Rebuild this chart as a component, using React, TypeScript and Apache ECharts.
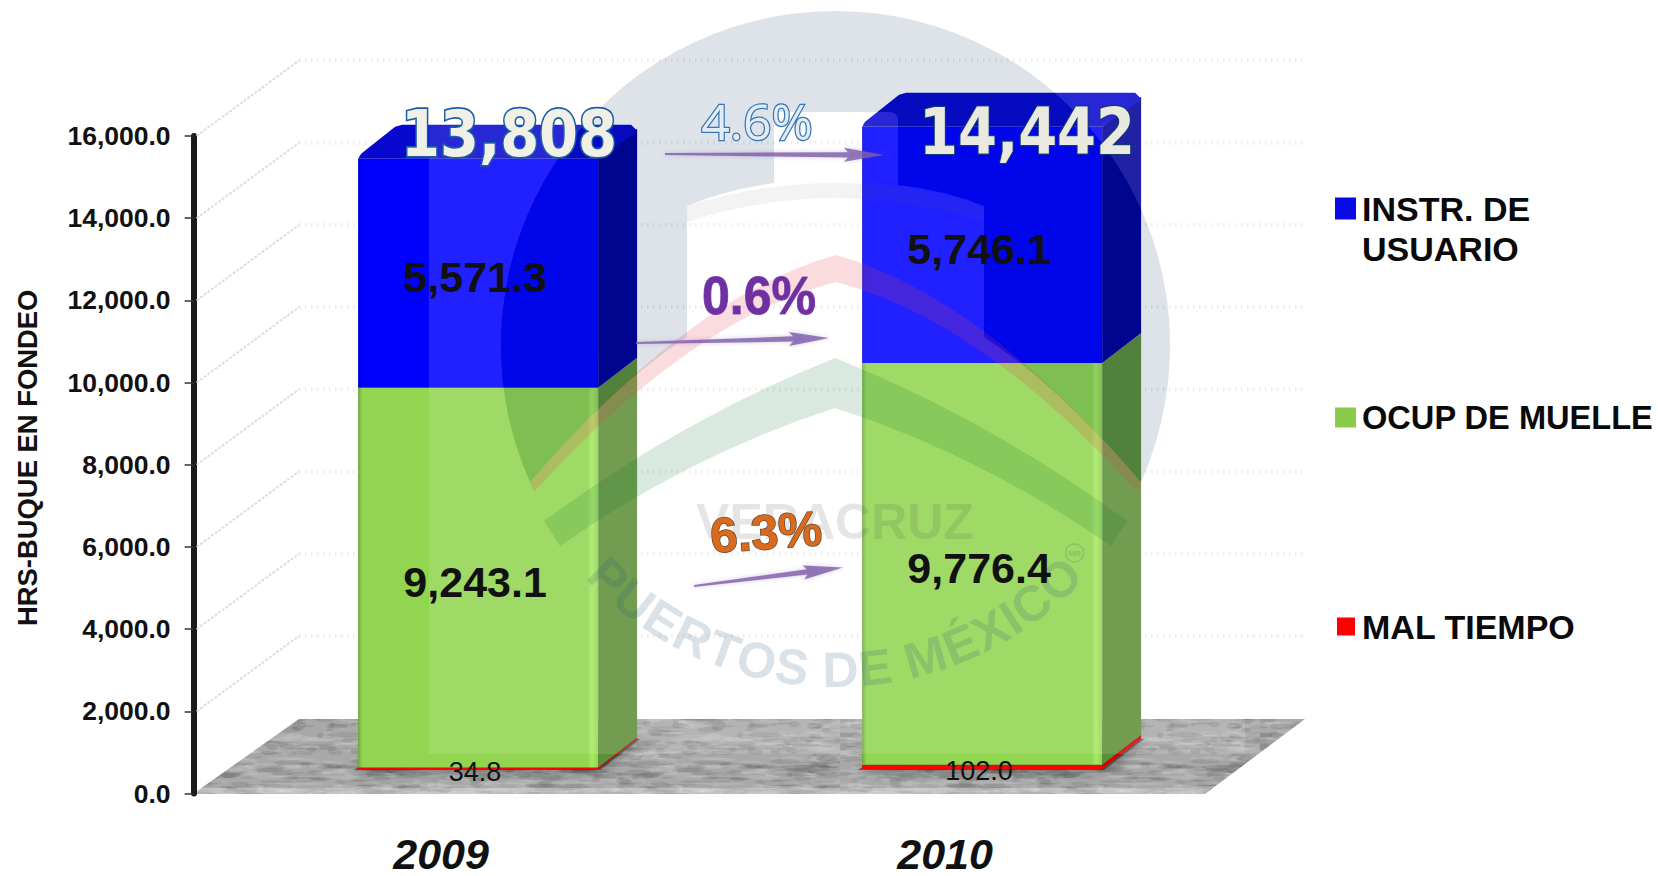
import React, { useEffect, useRef } from "react";
import * as echarts from "echarts";

const categories = ["2009", "2010"];
const malTiempo = [34.8, 102.0];
const ocupMuelle = [9243.1, 9776.4];
const instrUsuario = [5571.3, 5746.1];
const totalLabels = ["13,808", "14,442"];
const pctLabels = ["4.6%", "0.6%", "6.3%"];
const yTicks = [2000, 4000, 6000, 8000, 10000, 12000, 14000, 16000];
const legendNames = ["INSTR. DE\nUSUARIO", "OCUP DE MUELLE", "MAL TIEMPO"];

const SANS = '"Liberation Sans", Arial, sans-serif';
const LIFT = 24.6;
const OFF = 32.5;
const BAR_W = 240;
const DX = 39;
const DY = 30;

const DISC =
  "M530 482A334.6 334.6 0 1 1 1141 482Q1058 385 984 337L984 206Q945 190 898 185L898 120Q898 112 888 112L774 112L774 183Q725 190 687 206L687 337Q613 385 530 482Z";
const reg = (name: string, d: string) =>
  echarts.graphic.registerShape(name, echarts.graphic.extendPath(d, {}) as any);
reg("wmDisc", DISC);
reg("wmVeil", "M429 10L429 754L1245 754L1245 10Z" + DISC);
reg("wmBand", "M687 206Q836 160 984 206L984 222Q836 174 687 222Z");
reg("wmPink", "M530 482Q690 296 836 255Q982 296 1141 482L1137 492Q982 320 836 282Q690 320 534 492Z");
reg("wmGreen", "M544 521Q680 420 835 358Q990 420 1127 521L1111 546Q980 455 835 408Q690 455 560 546Z");

function floorTexture() {
  const c = document.createElement("canvas");
  c.width = 420;
  c.height = 160;
  const g = c.getContext("2d")!;
  g.fillStyle = "#a9a9a9";
  g.fillRect(0, 0, 420, 160);
  let s = 12345;
  const next = () => {
    s = (s * 1103515245 + 12345) & 0x7fffffff;
    return s / 0x7fffffff;
  };
  for (let i = 0; i < 1500; i++) {
    const x = next() * 420;
    const y = next() * 160;
    const w = 3 + next() * 16;
    const h = 0.8 + next() * 2.4;
    g.fillStyle = next() > 0.5 ? "rgba(215,215,215,0.2)" : "rgba(90,90,90,0.18)";
    g.beginPath();
    g.ellipse(x, y, w, h, 0, 0, Math.PI * 2);
    g.fill();
  }
  return c;
}

function arrow(x0: number, y0: number, x1: number, y1: number) {
  const L = Math.hypot(x1 - x0, y1 - y0);
  const ux = (x1 - x0) / L;
  const uy = (y1 - y0) / L;
  const nx = -uy;
  const ny = ux;
  const p = (a: number, n: number) => [x0 + ux * a + nx * n, y0 + uy * a + ny * n];
  return {
    type: "polygon",
    z: 12,
    silent: true,
    shape: {
      points: [
        p(0, -1), p(L - 36, -2.6), p(L - 40, -7), p(L, 0), p(L - 40, 7), p(L - 36, 2.6), p(0, 1),
      ],
    },
    style: { fill: "rgba(128,92,172,0.8)", shadowBlur: 4, shadowColor: "rgba(90,60,130,0.35)" },
  };
}

function wmLetters() {
  const text = "PUERTOS DE MÉXICO";
  const font = `bold 50px ${SANS}`;
  const ctx = document.createElement("canvas").getContext("2d")!;
  ctx.font = font;
  const widths = Array.from(text).map((ch) => ctx.measureText(ch).width);
  const total = widths.reduce((a, b) => a + b, 0);
  const R = 325;
  const cx = 835;
  const cy = 345;
  const span = (88 * Math.PI) / 180 + (widths[0] + widths[widths.length - 1]) / 2 / R;
  const k = (span * R) / total;
  let run = 0;
  return Array.from(text).map((ch, i) => {
    const pos = run + (widths[i] * k) / 2;
    run += widths[i] * k;
    const th = span / 2 - pos / R;
    return {
      type: "text",
      z: 6,
      silent: true,
      x: cx - R * Math.sin(th),
      y: cy + R * Math.cos(th),
      rotation: -th,
      style: {
        text: ch,
        font,
        fill: "rgba(30,75,125,0.17)",
        textAlign: "center",
        textVerticalAlign: "middle",
      },
    };
  });
}

function barSeries(name: string, values: number[], bases: number[], face: string, side: string, edge: string, isTop: boolean, isBase: boolean) {
  return {
    name,
    type: "custom",
    z: 3,
    data: values.map((v, i) => [i, bases[i], bases[i] + v]),
    renderItem: (params: any, api: any) => {
      const i = api.value(0);
      const cx = api.coord([i, 0])[0] + OFF;
      const yb = api.coord([i, api.value(1)])[1] - LIFT;
      const yt = api.coord([i, api.value(2)])[1] - LIFT;
      const x0 = cx - BAR_W / 2;
      const x1 = cx + BAR_W / 2;
      const kids: any[] = [];
      if (isBase) {
        kids.push({
          type: "polygon",
          shape: { points: [[x0 - 4, yb + 1], [x1 + 2, yb + 1], [x1 + DX + 3, yb - DY], [x0 + DX, yb - DY]] },
          style: { fill: "rgba(50,50,50,0.65)", shadowBlur: 14, shadowColor: "rgba(0,0,0,0.75)" },
        });
      }
      kids.push({
        type: "polygon",
        shape: { points: [[x1, yb], [x1 + DX, yb - DY], [x1 + DX, yt - DY], [x1, yt]] },
        style: { fill: side },
      });
      kids.push({
        type: "rect",
        shape: { x: x0, y: yt, width: BAR_W, height: yb - yt },
        style: {
          fill: new echarts.graphic.LinearGradient(0, 0, 1, 0, [
            { offset: 0, color: edge },
            { offset: 0.018, color: face },
            { offset: 0.955, color: face },
            { offset: 0.975, color: isBase ? face : edge === "#6da63c" ? "#a6ea60" : face },
            { offset: 1, color: face },
          ]),
        },
      });
      if (isTop) {
        kids.push({
          type: "polygon",
          shape: {
            points: [
              [x0, yt], [x0 + 3, yt - 5], [x0 + DX - 2, yt - DY - 2], [x0 + DX + 5, yt - DY - 4],
              [x1 + DX - 6, yt - DY - 4], [x1 + DX, yt - DY + 2], [x1 + DX, yt - DY + 3], [x1, yt],
            ],
          },
          style: { fill: "#0808cf" },
        });
      }
      return { type: "group", children: kids };
    },
  };
}

export default function App() {
  const ref = useRef<HTMLDivElement>(null);
  useEffect(() => {
    const chart = echarts.init(ref.current!, undefined, { renderer: "svg" });
    const baseGreen = malTiempo;
    const baseBlue = malTiempo.map((v, i) => v + ocupMuelle[i]);
    const zero = malTiempo.map(() => 0);

    const labelData: any[] = [];
    categories.forEach((_, i) => {
      labelData.push([i, baseBlue[i] + instrUsuario[i] / 2, instrUsuario[i], 43, "bold", 4]);
      labelData.push([i, baseGreen[i] + ocupMuelle[i] / 2, ocupMuelle[i], 43, "bold", 4]);
      labelData.push([i, malTiempo[i] / 2, malTiempo[i], 27, "normal", 4]);
    });
    const fmt = (v: number) =>
      v.toLocaleString("en-US", { minimumFractionDigits: 1, maximumFractionDigits: 1 });

    const legendText = (size: number, left: number) => ({
      fontFamily: SANS,
      fontSize: size,
      fontWeight: "bold",
      color: "#0a0a0a",
      lineHeight: 40,
      padding: [0, 0, 0, left],
    });

    const option: any = {
      animation: false,
      backgroundColor: "#ffffff",
      grid: { left: 193.6, right: 456.4, top: 136, bottom: 82.4, outerBoundsMode: "none" },
      xAxis: {
        type: "category",
        data: categories,
        axisLine: { show: false },
        axisTick: { show: false },
        axisLabel: {
          margin: 40,
          padding: [0, 9, 0, 0],
          fontFamily: SANS,
          fontSize: 43,
          lineHeight: 40,
          fontWeight: "bold",
          fontStyle: "italic",
          color: "#111",
        },
      },
      yAxis: {
        type: "value",
        min: 0,
        max: 16000,
        interval: 2000,
        name: "HRS-BUQUE EN FONDEO",
        nameLocation: "middle",
        nameGap: 153,
        nameTextStyle: {
          fontFamily: SANS,
          fontSize: 27.4,
          fontWeight: "bold",
          color: "#111",
          padding: [0, 0, 0, 14],
        },
        axisLine: { show: true, lineStyle: { color: "#1a1a1a", width: 6 } },
        axisTick: { show: true, length: 9, lineStyle: { color: "#333", width: 1.5 } },
        splitLine: { show: false },
        axisLabel: {
          margin: 23,
          fontFamily: SANS,
          fontSize: 26.5,
          fontWeight: "bold",
          color: "#111",
          formatter: (v: number) => fmt(v),
        },
      },
      legend: [
        {
          left: 1330, top: 183.5, selectedMode: false, itemWidth: 21, itemHeight: 62,
          textStyle: legendText(34, 1),
          data: [{ name: legendNames[0], icon: "path://M0 0H21V22H0ZM0 62H0.01V62H0Z", itemStyle: { color: "#0a0ae6" } }],
        },
        {
          left: 1330, top: 392.5, selectedMode: false, itemWidth: 21, itemHeight: 20,
          textStyle: legendText(32.6, 1),
          data: [{ name: legendNames[1], icon: "rect", itemStyle: { color: "#8acb4c" } }],
        },
        {
          left: 1332, top: 601.5, selectedMode: false, itemWidth: 18, itemHeight: 18,
          textStyle: legendText(34, 2),
          data: [{ name: legendNames[2], icon: "rect", itemStyle: { color: "#ff0000" } }],
        },
      ],
      series: [
        {
          type: "custom",
          z: 1,
          silent: true,
          data: yTicks.map((t) => [t]),
          renderItem: (params: any, api: any) => {
            const [x, y] = api.coord([0, api.value(0)]);
            const x0 = params.coordSys.x;
            const xBack = x0 + 105.4;
            const yBack = y - 75.5;
            return {
              type: "group",
              children: [
                {
                  type: "line",
                  shape: { x1: x0 + 3, y1: y, x2: xBack, y2: yBack },
                  style: { stroke: "#dedede", lineWidth: 2, lineDash: [3, 1.5] },
                },
                {
                  type: "line",
                  shape: { x1: xBack, y1: yBack, x2: 1305, y2: yBack },
                  style: { stroke: "#ececec", lineWidth: 4, lineDash: [1.5, 4.5] },
                },
              ],
            };
          },
        },
        barSeries(legendNames[2], malTiempo, zero, "#ff0000", "#d80000", "#ff0000", false, true),
        barSeries(legendNames[1], ocupMuelle, baseGreen, "#92d550", "#5e8f38", "#6da63c", false, false),
        barSeries(legendNames[0], instrUsuario, baseBlue, "#0000ff", "#000098", "#0000d8", true, false),
        {
          type: "custom",
          z: 10,
          silent: true,
          data: labelData,
          renderItem: (params: any, api: any) => {
            const d = labelData[params.dataIndex];
            const [cx, y] = api.coord([d[0], d[1]]);
            return {
              type: "text",
              x: cx + OFF - 3,
              y: y - LIFT + d[5],
              style: {
                text: fmt(d[2]),
                font: `${d[4]} ${d[3]}px ${SANS}`,
                fill: "#111",
                textAlign: "center",
                textVerticalAlign: "middle",
              },
            };
          },
        },
      ],
      graphic: [
        {
          type: "polygon",
          z: -2,
          silent: true,
          shape: { points: [[193, 794], [299, 719], [1305, 719], [1205, 794]] },
          style: { fill: { image: floorTexture(), repeat: "repeat" } },
        },
        {
          type: "polygon",
          z: -1,
          silent: true,
          shape: { points: [[197, 788], [1211, 788], [1205, 795], [193, 795]] },
          style: { fill: "rgba(255,255,255,0.3)" },
        },
        { type: "wmVeil", z: 5, silent: true, style: { fill: "rgba(255,255,255,0.13)" } },
        { type: "wmDisc", z: 5, silent: true, style: { fill: "rgba(0,40,90,0.13)" } },
        { type: "wmBand", z: 5, silent: true, style: { fill: "rgba(90,90,90,0.07)" } },
        { type: "wmPink", z: 5, silent: true, style: { fill: "rgba(225,60,70,0.18)" } },
        { type: "wmGreen", z: 5, silent: true, style: { fill: "rgba(0,110,40,0.15)" } },
        {
          type: "text",
          z: 6,
          silent: true,
          x: 835,
          y: 522,
          style: {
            text: "VERACRUZ",
            font: `bold 50px ${SANS}`,
            fill: "rgba(70,70,70,0.14)",
            textAlign: "center",
            textVerticalAlign: "middle",
          },
        },
        ...wmLetters(),
        {
          type: "circle",
          z: 6,
          silent: true,
          shape: { cx: 1074.6, cy: 553, r: 9 },
          style: { fill: "none", stroke: "rgba(30,75,125,0.16)", lineWidth: 1.5 },
        },
        {
          type: "text",
          z: 6,
          silent: true,
          x: 1074.6,
          y: 553,
          style: {
            text: "MR",
            font: `bold 8px ${SANS}`,
            fill: "rgba(30,75,125,0.2)",
            textAlign: "center",
            textVerticalAlign: "middle",
          },
        },
        arrow(665, 154, 884, 155),
        arrow(636, 343, 829, 338),
        arrow(694, 586, 843, 567.5),
        {
          type: "text",
          z: 13,
          silent: true,
          x: 509,
          y: 134,
          scaleY: 1.13,
          style: {
            text: totalLabels[0],
            font: 'bold 56px "DejaVu Sans"',
            fill: "#f1f0e6",
            stroke: "#1a5da6",
            lineWidth: 3,
            textAlign: "center",
            textVerticalAlign: "middle",
          },
        },
        {
          type: "text",
          z: 13,
          silent: true,
          x: 1027,
          y: 132,
          scaleY: 1.13,
          style: {
            text: totalLabels[1],
            font: 'bold 56px "DejaVu Sans"',
            fill: "#e9e9e0",
            stroke: "#123a70",
            lineWidth: 2,
            textAlign: "center",
            textVerticalAlign: "middle",
          },
        },
        {
          type: "text",
          z: 13,
          silent: true,
          x: 757,
          y: 121,
          style: {
            text: pctLabels[0],
            font: '50px "Open Sans"',
            fill: "#e3ebf5",
            stroke: "#3a76b6",
            lineWidth: 2.5,
            textAlign: "center",
            textVerticalAlign: "middle",
            shadowBlur: 5,
            shadowColor: "rgba(0,0,0,0.4)",
            shadowOffsetY: 2,
          },
        },
        {
          type: "text",
          z: 13,
          silent: true,
          x: 759,
          y: 295,
          scaleY: 1.08,
          style: {
            text: pctLabels[1],
            font: `bold 50px ${SANS}`,
            fill: "#7030a0",
            stroke: "#8a5cc0",
            lineWidth: 1,
            textAlign: "center",
            textVerticalAlign: "middle",
            shadowBlur: 5,
            shadowColor: "rgba(0,0,0,0.4)",
            shadowOffsetY: 3,
          },
        },
        {
          type: "text",
          z: 13,
          silent: true,
          x: 766,
          y: 532,
          rotation: (4 * Math.PI) / 180,
          style: {
            text: pctLabels[2],
            font: `bold 49px ${SANS}`,
            fill: "#d96a1e",
            stroke: "#6b4a34",
            lineWidth: 1.5,
            textAlign: "center",
            textVerticalAlign: "middle",
            shadowBlur: 4,
            shadowColor: "rgba(0,0,0,0.6)",
            shadowOffsetX: -1,
            shadowOffsetY: 3,
          },
        },
      ],
    };
    chart.setOption(option);
    return () => chart.dispose();
  }, []);
  return (
    <div
      ref={ref}
      style={{ position: "fixed", left: 0, top: 0, width: 1658, height: 876 }}
    />
  );
}
